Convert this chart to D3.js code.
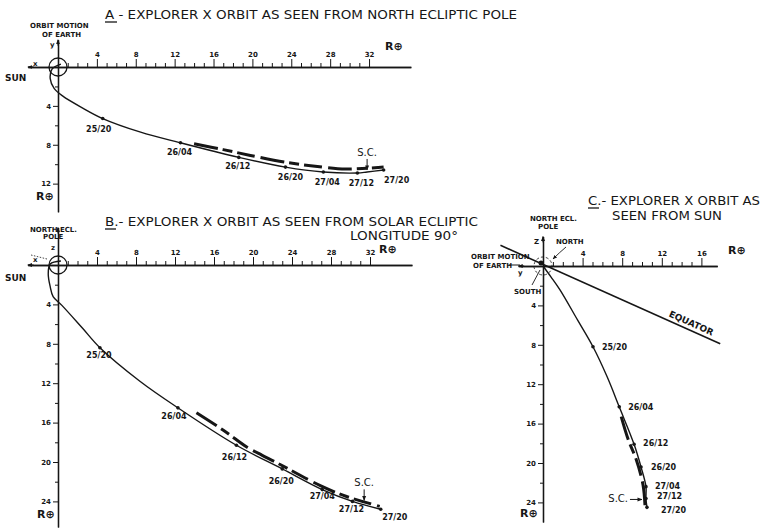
<!doctype html>
<html>
<head>
<style>
  body { margin: 0; background: #fff; }
  svg { display: block; font-family: "DejaVu Sans", sans-serif; }
  .ttl { font-size: 13px; fill: #161616; }
  .lbl { font-weight: bold; fill: #161616; }
  .stop { font-size: 8px; font-weight: bold; fill: #161616; }
</style>
<script src="https://d3js.org/d3.v7.min.js"></script>
</head>
<body>
<svg width="763" height="530"></svg>
<script>
// ---- data, in earth radii (R⊕) ----
var ticksX = [4, 8, 12, 16, 20, 24, 28, 32];
var ticksXC = [4, 8, 12, 16];
var ticksYA = [4, 8, 12];
var ticksYB = [4, 8, 12, 16, 20, 24];
var stopLabels = ["25/20", "26/04", "26/12", "26/20", "27/04", "27/12", "27/20"];

// A - seen from north ecliptic pole (x, y)
var trackA = [[0.3,-0.3],[-0.6,0.2],[-0.8,1.2],[-0.4,2.2],[0.5,3.0],[2.5,4.2],[4.6,5.3],[8.5,6.7],
              [12.6,7.8],[18.6,9.3],[23.4,10.3],[27.3,10.8],[30.8,10.9],[31.8,10.8],[33.5,10.6]];
var dashA  = [[14.0,7.9],[17.0,8.5],[19.8,9.1],[23.4,9.8],[27.2,10.3],[29.6,10.5],[33.5,10.3]];
var stopsA = [[4.6,5.3],[12.6,7.8],[18.6,9.3],[23.4,10.3],[27.3,10.8],[30.8,10.9],[33.5,10.6]];
var scA = [31.8, 10.8];

// B - seen from solar ecliptic longitude 90 (x, z)
var trackB = [[0.3,-0.4],[-0.8,-0.1],[-1.0,0.9],[-0.8,2.2],[-0.5,3.2],[0.4,4.1],[2.5,6.4],[4.3,8.4],
              [8.4,11.8],[12.3,14.5],[18.3,18.3],[23.0,20.7],[27.1,22.8],[30.2,24.0],[33.1,24.8]];
var dashB  = [[14.2,15.0],[17.0,16.8],[19.4,18.5],[20.9,19.3],[22.3,20.0],[26.9,22.4],[29.6,23.5],[33.0,24.5]];
var stopsB = [[4.3,8.4],[12.3,14.5],[18.3,18.3],[23.0,20.7],[27.1,22.8],[30.2,24.0],[33.1,24.8]];
var scB = [31.4, 24.1];

// C - seen from sun (y, z)
var trackC = [[0,0],[0.8,1.1],[1.7,2.4],[3.5,5.5],[5.05,8.2],[6.5,11.3],[7.7,14.3],[9.2,18.1],
              [9.9,20.4],[10.4,22.4],[10.4,23.6],[10.5,24.5]];
var dashC  = [[7.9,15.3],[8.6,17.6],[9.4,19.6],[10.1,22.2],[10.3,24.3]];
var stopsC = [[5.05,8.2],[7.7,14.3],[9.2,18.1],[9.9,20.4],[10.4,22.4],[10.4,23.6],[10.5,24.5]];
var scC = [10.2, 23.7];
var equator = [[-4.3,-2.1],[17.9,7.9]];

var svg = d3.select("svg");
var ink = "#161616";

svg.append("defs").append("marker")
   .attr("id", "arr").attr("viewBox", "0 0 10 10")
   .attr("refX", 9).attr("refY", 5)
   .attr("markerWidth", 5).attr("markerHeight", 5)
   .attr("orient", "auto")
   .append("path").attr("d", "M0,1L10,5L0,9z").attr("fill", ink);

function panel(p) {
    var x = d3.scaleLinear().domain(p.xdom).range([p.ox + p.xdom[0]*p.kx, p.ox + p.xdom[1]*p.kx]);
    var y = d3.scaleLinear().domain(p.ydom).range([p.oy + p.ydom[0]*p.ky, p.oy + p.ydom[1]*p.ky]);
    var g = svg.append("g");

    var minorX = d3.range(1, p.xmax + 1).filter(function(d) { return d % 4 != 0; });
    var minorY = d3.range(2, p.ymax + 1, 4);

    // horizontal axis
    g.append("g").attr("transform", "translate(0," + p.oy + ")")
     .call(d3.axisTop(x).tickValues(minorX).tickSize(4).tickSizeOuter(0).tickFormat(""));
    g.append("g").attr("transform", "translate(0," + p.oy + ")")
     .call(d3.axisTop(x).tickValues(p.xt).tickSize(8).tickSizeOuter(0).tickPadding(2));
    // vertical axis
    g.append("g").attr("transform", "translate(" + p.ox + ",0)")
     .call(d3.axisLeft(y).tickValues(minorY).tickSize(3).tickSizeOuter(0).tickFormat(""));
    g.append("g").attr("transform", "translate(" + p.ox + ",0)")
     .call(d3.axisLeft(y).tickValues(p.yt).tickSize(5).tickSizeOuter(0).tickPadding(2));

    g.selectAll(".domain").attr("stroke", ink).attr("stroke-width", 1.3);
    g.selectAll(".tick line").attr("stroke", ink).attr("stroke-width", 1);
    g.selectAll(".tick text").attr("font-family", "DejaVu Sans").attr("font-size", 7)
     .attr("font-weight", "bold").attr("fill", ink);

    // arrow heads at the negative ends
    g.append("line").attr("x1", x(p.xdom[0] + 0.6)).attr("x2", x(p.xdom[0]))
     .attr("y1", p.oy).attr("y2", p.oy).attr("stroke", ink).attr("marker-end", "url(#arr)");
    g.append("line").attr("y1", y(p.ydom[0] + 0.6)).attr("y2", y(p.ydom[0]))
     .attr("x1", p.ox).attr("x2", p.ox).attr("stroke", ink).attr("marker-end", "url(#arr)");

    // earth circle
    g.append("circle").attr("cx", p.ox).attr("cy", p.oy).attr("r", 9)
     .attr("fill", "none").attr("stroke", ink).attr("stroke-width", p.circleW || 1.3)
     .attr("stroke-dasharray", p.circleDash || null);

    var line = d3.line().x(function(d) { return x(d[0]); }).y(function(d) { return y(d[1]); })
                 .curve(d3.curveCatmullRom.alpha(0.5));

    g.append("path").attr("d", line(p.dash)).attr("fill", "none").attr("stroke", ink)
     .attr("stroke-width", 3).attr("stroke-dasharray", "24,5,10,5,18,6");
    g.append("path").attr("d", line(p.track)).attr("fill", "none").attr("stroke", ink)
     .attr("stroke-width", 1.4);

    g.selectAll(".dot").data(p.stops).enter().append("circle")
     .attr("cx", function(d) { return x(d[0]); }).attr("cy", function(d) { return y(d[1]); })
     .attr("r", 1.8).attr("fill", ink);

    g.selectAll(".stop").data(p.stops).enter().append("text").attr("class", "stop")
     .attr("x", function(d, i) { return x(d[0]) + p.off[i][0]; })
     .attr("y", function(d, i) { return y(d[1]) + p.off[i][1]; })
     .attr("text-anchor", p.anchor)
     .text(function(d, i) { return stopLabels[i]; });

    return {x: x, y: y, g: g};
}

var A = panel({ox: 58, oy: 67, kx: 9.72, ky: 9.72, xdom: [-3.1, 36.3], ydom: [-2.8, 14.9],
               xmax: 32, ymax: 12, xt: ticksX, yt: ticksYA,
               track: trackA, dash: dashA, stops: stopsA, anchor: "middle",
               off: [[-4,13],[-1,12],[-1,12],[5,13],[4,13],[4,13],[13,13]]});
var B = panel({ox: 58, oy: 265, kx: 9.75, ky: 9.85, xdom: [-3.1, 36.3], ydom: [-3.8, 26.6],
               xmax: 32, ymax: 24, xt: ticksX, yt: ticksYB,
               track: trackB, dash: dashB, stops: stopsB, anchor: "middle",
               off: [[-1,10],[-4,11],[-2,15],[-1,15],[0,9],[-1,11],[14,11]]});
var C = panel({ox: 543, oy: 266, kx: 9.9, ky: 9.85, xdom: [-2.5, 17.6], ydom: [-3, 26],
               xmax: 16, ymax: 24, xt: ticksXC, yt: ticksYB, circleW: 0.8, circleDash: "3,2",
               track: trackC, dash: dashC, stops: stopsC, anchor: "start",
               off: [[9,3],[9,3],[9,2],[10,3],[9,2],[11,1],[14,6]]});

// equator in C
C.g.append("line").attr("x1", C.x(equator[0][0])).attr("y1", C.y(equator[0][1]))
   .attr("x2", C.x(equator[1][0])).attr("y2", C.y(equator[1][1]))
   .attr("stroke", ink).attr("stroke-width", 1.6);
C.g.append("circle").attr("cx", 541).attr("cy", 263).attr("r", 2.5).attr("fill", ink);
var ang = Math.atan2(C.y(equator[1][1]) - C.y(equator[0][1]), C.x(equator[1][0]) - C.x(equator[0][0])) * 180 / Math.PI;
C.g.append("text").attr("class", "lbl").style("font-size", "9px")
   .attr("transform", "translate(690,326) rotate(" + ang + ")")
   .attr("text-anchor", "middle").text("EQUATOR");

// S.C. arrows
function scMark(P, pt, vertical, tx, ty, anchor) {
    var px = P.x(pt[0]), py = P.y(pt[1]);
    if (vertical) {
        P.g.append("line").attr("x1", px).attr("x2", px).attr("y1", py - 13).attr("y2", py - 2)
           .attr("stroke", ink).attr("marker-end", "url(#arr)");
    } else {
        P.g.append("line").attr("x1", px - 14).attr("x2", px - 2).attr("y1", py).attr("y2", py)
           .attr("stroke", ink).attr("marker-end", "url(#arr)");
    }
    P.g.append("text").attr("class", "stop").style("font-size", "10px").style("font-weight", "normal")
       .attr("x", px + tx).attr("y", py + ty).attr("text-anchor", anchor).text("S.C.");
}
scMark(A, scA, true, 0, -16, "middle");
scMark(B, scB, true, 0, -16, "middle");
scMark(C, scC, false, -16, 3, "end");

// titles
function title(x, y, len, str) {
    svg.append("text").attr("class", "ttl").attr("x", x).attr("y", y)
       .attr("textLength", len).attr("lengthAdjust", "spacingAndGlyphs").text(str);
}
title(105, 19, 412, "A - EXPLORER X ORBIT AS SEEN FROM NORTH ECLIPTIC POLE");
title(105, 226, 373, "B.- EXPLORER X ORBIT AS SEEN FROM SOLAR ECLIPTIC");
title(350, 240, 108, "LONGITUDE  90°");
title(588, 205, 172, "C.- EXPLORER X ORBIT AS");
title(612, 220, 110, "SEEN  FROM  SUN");
[[105, 22, 12], [105, 229, 11], [588, 208, 11]].forEach(function(u) {
    svg.append("line").attr("x1", u[0]).attr("x2", u[0] + u[2]).attr("y1", u[1]).attr("y2", u[1])
       .attr("stroke", ink).attr("stroke-width", 1.3);
});

// small annotations
function note(x, y, str, anchor, size) {
    svg.append("text").attr("class", "lbl").attr("x", x).attr("y", y)
       .attr("text-anchor", anchor || "start").style("font-size", (size || 7) + "px").text(str);
}
note(30, 28, "ORBIT MOTION");
note(42, 37, "OF EARTH");
note(50, 47, "y");
note(33, 66, "x");
note(5, 81, "SUN", "start", 9);
note(385, 50, "R⊕", "start", 11);
note(36, 200, "R⊕", "start", 11);

note(30, 232, "NORTH ECL.");
note(43, 239, "POLE");
note(51, 250, "z");
note(33, 262, "x");
note(5, 281, "SUN", "start", 9);
note(379, 253, "R⊕", "start", 11);
note(37, 518, "R⊕", "start", 11);
svg.append("line").attr("x1", 31).attr("y1", 255).attr("x2", 47).attr("y2", 259)
   .attr("stroke", ink).attr("stroke-width", 0.8).attr("stroke-dasharray", "1.5,1.5");

note(530, 221, "NORTH ECL.");
note(538, 229, "POLE");
note(534, 244, "Z");
note(556, 244, "NORTH");
note(471, 259, "ORBIT MOTION");
note(473, 268, "OF EARTH");
note(518, 275, "y");
note(514, 294, "SOUTH");
note(728, 254, "R⊕", "start", 11);
note(520, 517, "R⊕", "start", 11);
svg.append("line").attr("x1", 509).attr("x2", 520).attr("y1", 265).attr("y2", 265).attr("stroke", ink);
svg.append("line").attr("x1", 532).attr("y1", 285).attr("x2", 540).attr("y2", 270)
   .attr("stroke", ink).attr("stroke-width", 0.9);
svg.append("path").attr("d", "M566,247 Q560,252 553,259").attr("fill", "none")
   .attr("stroke", ink).attr("stroke-width", 0.9).attr("marker-end", "url(#arr)");
</script>
</body>
</html>
